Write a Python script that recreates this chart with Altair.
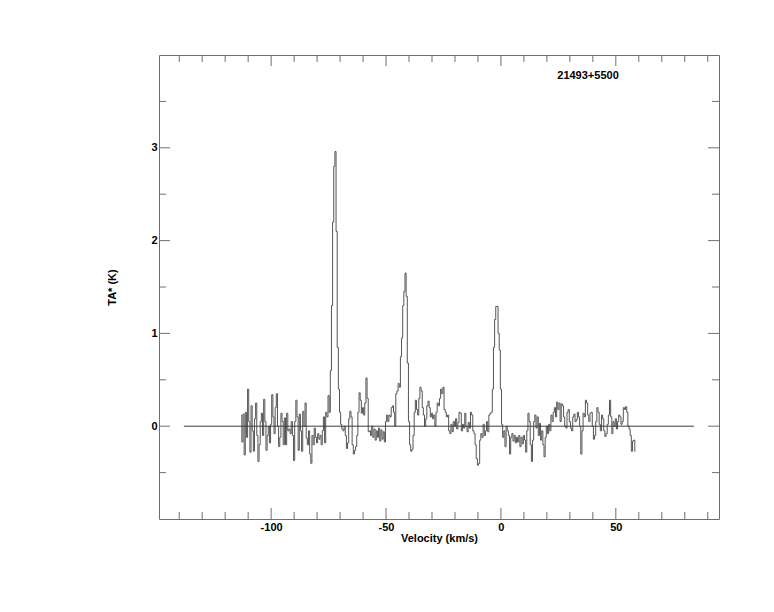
import altair as alt
import numpy as np
import pandas as pd

# ---- data ----
title_text = "21493+5500"
v_first = -113.0          # first channel velocity (km/s)
v_step = 0.5              # channel width (km/s)
ta = [
    0.12, -0.17, 0.13, -0.31, 0.15, -0.12, 0.40, 0.05, -0.28, 0.22,
    -0.05, -0.27, 0.08, 0.25, -0.10, -0.38, -0.20, 0.05, 0.14, -0.10,
    0.29, 0.05, -0.26, -0.10, 0.00, -0.18, 0.02, 0.34, 0.10, -0.08,
    0.20, 0.35, 0.00, -0.22, -0.12, 0.14, 0.05, -0.20, 0.09, -0.20,
    0.14, -0.05, -0.03, -0.08, 0.05, -0.10, -0.37, 0.05, 0.28, 0.10,
    -0.26, 0.13, -0.05, -0.27, 0.16, 0.00, 0.25, -0.13, -0.20, -0.05,
    -0.30, -0.40, -0.10, -0.20, -0.02, -0.12, -0.18, -0.08, -0.14, -0.10,
    -0.20, -0.05, 0.10, -0.18, 0.15, 0.10, 0.33, 0.15, 0.60, 1.30,
    2.20, 2.80, 2.96, 2.10, 0.85, 0.40, 0.15, 0.02, -0.03, -0.05,
    0.00, -0.10, -0.24, -0.18, 0.08, 0.16, 0.10, -0.20, -0.30, -0.26,
    -0.22, -0.10, 0.15, 0.36, 0.28, 0.14, 0.20, 0.12, 0.25, 0.52,
    0.30, -0.06, -0.05, -0.10, 0.00, -0.12, -0.03, -0.15, -0.05, -0.12,
    -0.02, -0.16, -0.04, -0.14, -0.06, -0.17, 0.05, 0.12, 0.05, 0.12,
    0.10, 0.20, 0.22, 0.15, 0.00, 0.35, 0.38, 0.46, 0.42, 0.75,
    0.95, 1.30, 1.45, 1.65, 1.40, 0.68, 0.05, -0.20, -0.27, -0.25,
    -0.10, 0.15, 0.28, 0.18, 0.12, 0.30, 0.42, 0.38, 0.20, 0.12,
    0.00, 0.08, 0.22, 0.27, 0.20, 0.10, 0.14, 0.08, 0.12, 0.00,
    0.15, 0.25, 0.22, 0.30, 0.40, 0.35, 0.42, 0.18, 0.15, 0.10,
    0.12, -0.05, -0.08, 0.02, -0.06, 0.05, 0.00, 0.08, -0.03, 0.04,
    0.15, 0.14, -0.05, 0.02, -0.02, 0.14, 0.00, -0.06, 0.04, -0.02,
    0.15, 0.12, -0.05, -0.08, -0.20, -0.35, -0.42, -0.40, -0.15, -0.08,
    -0.12, 0.02, -0.10, -0.05, 0.05, -0.06, 0.12, 0.14, 0.15, 0.40,
    0.85, 1.15, 1.29, 1.29, 1.00, 0.82, 0.40, 0.02, -0.12, -0.05,
    -0.22, 0.00, -0.05, -0.10, -0.30, -0.12, -0.08, -0.16, -0.10, -0.18,
    -0.12, -0.17, -0.10, -0.22, -0.12, -0.19, -0.10, -0.15, -0.28, -0.05,
    0.14, 0.05, -0.20, -0.38, -0.15, 0.05, 0.12, -0.02, 0.10, -0.10,
    0.03, -0.15, -0.05, -0.20, -0.33, -0.12, 0.00, -0.08, 0.02, -0.05,
    0.12, 0.05, 0.15, 0.20, 0.10, 0.26, 0.18, 0.25, 0.05, 0.24,
    0.22, 0.10, 0.00, -0.02, 0.15, 0.18, 0.05, -0.02, -0.05, 0.10,
    0.13, 0.05, 0.07, 0.15, 0.10, 0.00, -0.30, -0.05, 0.14, 0.10,
    0.28, 0.25, 0.12, 0.05, 0.14, 0.15, 0.00, -0.14, -0.10, 0.05,
    0.20, 0.15, 0.02, -0.05, 0.12, 0.08, -0.05, -0.11, -0.08, 0.02,
    0.12, 0.28, 0.10, -0.08, 0.05, 0.00, 0.08, -0.03, 0.05, 0.12,
    0.10, 0.02, 0.05, 0.20, 0.18, 0.21, 0.15, 0.00, -0.03, -0.10,
    -0.27, -0.16, -0.15, -0.27,
]
baseline_v = [-138.0, 84.0]
baseline_t = [0.0, 0.0]
x_label_values = [-100, -50, 0, 50]
x_minor_ticks = [-140, -130, -120, -110, -90, -80, -70, -60, -40, -30, -20,
                 -10, 10, 20, 30, 40, 60, 70, 80, 90]
x_major_ticks = [-100, -50, 0, 50]
y_label_values = [0, 1, 2, 3]
y_minor_ticks = [-0.5, 0.5, 1.5, 2.5, 3.5]
y_major_ticks = [0, 1, 2, 3]
x_domain = [-148.8, 94.9]
y_domain = [-1.0, 4.0]

W, H = 560, 464
FONT = "Liberation Sans"
LINE = "#555555"
FRAME = "#6e6e6e"

spec = pd.DataFrame({"v": v_first + v_step * np.arange(len(ta)), "t": ta})
base = pd.DataFrame({"v": baseline_v, "t": baseline_t})

xs = alt.Scale(domain=x_domain, nice=False, zero=False)
ys = alt.Scale(domain=y_domain, nice=False, zero=False)

x_axis = alt.Axis(values=x_label_values, ticks=False, domain=False, grid=False,
                  labelExpr="'' + datum.value",
                  labelPadding=2, title="Velocity (km/s)", titlePadding=0)
y_axis = alt.Axis(values=y_label_values, ticks=False, domain=False, grid=False,
                  labelExpr="'' + datum.value",
                  labelPadding=2, title="TA* (K)", titlePadding=33)


def X(field):
    return alt.X(field, scale=xs, axis=x_axis)


def Y(field):
    return alt.Y(field, scale=ys, axis=y_axis)


spectrum = alt.Chart(spec).mark_line(
    interpolate="step", color=LINE, strokeWidth=1
).encode(x=X("v:Q"), y=Y("t:Q"))

zero_line = alt.Chart(base).mark_line(color="#3c3c3c", strokeWidth=1).encode(
    x=X("v:Q"), y=Y("t:Q"))


def xticks(vals, length):
    d = pd.DataFrame({"v": vals})
    bottom = alt.Chart(d).mark_rule(color=FRAME, strokeWidth=1).encode(
        x=X("v:Q"), y=alt.value(H), y2=alt.value(H - length))
    top = alt.Chart(d).mark_rule(color=FRAME, strokeWidth=1).encode(
        x=X("v:Q"), y=alt.value(0), y2=alt.value(length))
    return [bottom, top]


def yticks(vals, length):
    d = pd.DataFrame({"t": vals})
    left = alt.Chart(d).mark_rule(color=FRAME, strokeWidth=1).encode(
        y=Y("t:Q"), x=alt.value(0), x2=alt.value(length))
    right = alt.Chart(d).mark_rule(color=FRAME, strokeWidth=1).encode(
        y=Y("t:Q"), x=alt.value(W), x2=alt.value(W - length))
    return [left, right]


label = alt.Chart(pd.DataFrame({"name": [title_text]})).mark_text(
    font=FONT, fontSize=11, fontWeight="bold", color="black",
    align="center", baseline="middle"
).encode(text="name:N", x=alt.value(429), y=alt.value(21))

layers = [spectrum, zero_line] + xticks(x_minor_ticks, 7) + xticks(x_major_ticks, 11) \
    + yticks(y_minor_ticks, 7) + yticks(y_major_ticks, 11) + [label]

chart = alt.layer(*layers).properties(
    width=W, height=H,
    padding={"left": 151, "top": 47, "right": 40, "bottom": 70},
    autosize=alt.AutoSizeParams(type="none"),
    background="white",
).configure_view(
    stroke=FRAME, strokeWidth=1
).configure_axis(
    labelFont=FONT, labelFontSize=11, labelFontWeight="bold", labelColor="black",
    titleFont=FONT, titleFontSize=11, titleFontWeight="bold", titleColor="black",
)

chart.save("out.html", embed_options={"renderer": "svg", "actions": False})
